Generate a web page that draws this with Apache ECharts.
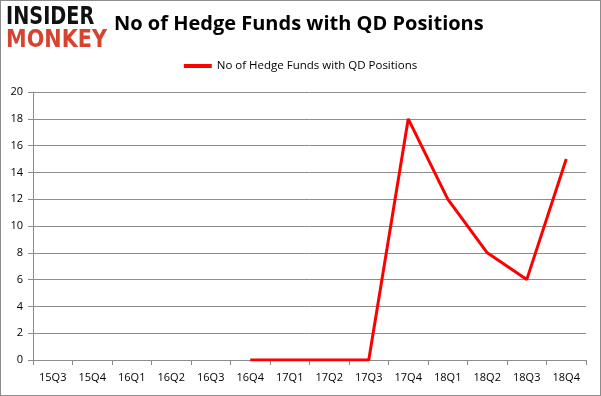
<!DOCTYPE html>
<html>
<head>
<meta charset="utf-8">
<script src="https://cdn.jsdelivr.net/npm/echarts@6/dist/echarts.min.js"></script>
<style>
html, body { margin: 0; padding: 0; background: #fff; }
#chart { width: 601px; height: 396px; box-sizing: border-box; border: 1px solid #8c8c8c; }
</style>
</head>
<body>
<div id="chart"></div>
<script>
// quarters and fund counts (no data before 16Q4)
const quarters = ['15Q3', '15Q4', '16Q1', '16Q2', '16Q3', '16Q4', '17Q1', '17Q2', '17Q3', '17Q4', '18Q1', '18Q2', '18Q3', '18Q4'];
const fundCounts = [null, null, null, null, null, 0, 0, 0, 0, 18, 12, 8, 6, 15];
const seriesName = 'No of Hedge Funds with QD Positions';

const chart = echarts.init(document.getElementById('chart'));
chart.setOption({
    animation: false,
    title: {
        text: 'No of Hedge Funds with QD Positions',
        left: 108,
        top: 8,
        textStyle: { fontFamily: 'Open Sans', fontSize: 20, fontWeight: 'bold', color: '#000' }
    },
    graphic: [
        {
            type: 'text', left: 5, top: 4, scaleX: 0.77, originX: 0,
            style: { text: 'INSIDER', fontFamily: 'DejaVu Sans', fontWeight: 'bold', fontSize: 25, fill: '#111' }
        },
        {
            type: 'text', left: 5, top: 27, scaleX: 0.83, originX: 0,
            style: { text: 'MONKEY', fontFamily: 'DejaVu Sans', fontWeight: 'bold', fontSize: 25, fill: '#d6432f' }
        }
    ],
    legend: {
        top: 54,
        left: 'center',
        itemWidth: 28,
        itemHeight: 4,
        icon: 'rect',
        textStyle: { fontFamily: 'Open Sans', fontSize: 11.5, color: '#000' },
        data: [seriesName]
    },
    grid: { left: 32, right: 14, top: 91, bottom: 35 },
    xAxis: {
        type: 'category',
        data: quarters,
        boundaryGap: true,
        axisLine: { lineStyle: { color: '#8c8c8c' } },
        axisTick: { show: true, lineStyle: { color: '#8c8c8c' }, length: 5 },
        axisLabel: { color: '#000', fontFamily: 'Open Sans', fontSize: 11, margin: 12 }
    },
    yAxis: {
        type: 'value',
        min: 0,
        max: 20,
        interval: 2,
        axisLine: { show: true, lineStyle: { color: '#8c8c8c' } },
        axisTick: { show: true, lineStyle: { color: '#8c8c8c' }, length: 5 },
        axisLabel: { color: '#000', fontFamily: 'Open Sans', fontSize: 11, margin: 10 },
        splitLine: { lineStyle: { color: '#8c8c8c' } }
    },
    series: [{
        name: seriesName,
        type: 'line',
        data: fundCounts,
        symbol: 'none',
        lineStyle: { color: '#ff0000', width: 3 },
        itemStyle: { color: '#ff0000' }
    }]
});
</script>
</body>
</html>
